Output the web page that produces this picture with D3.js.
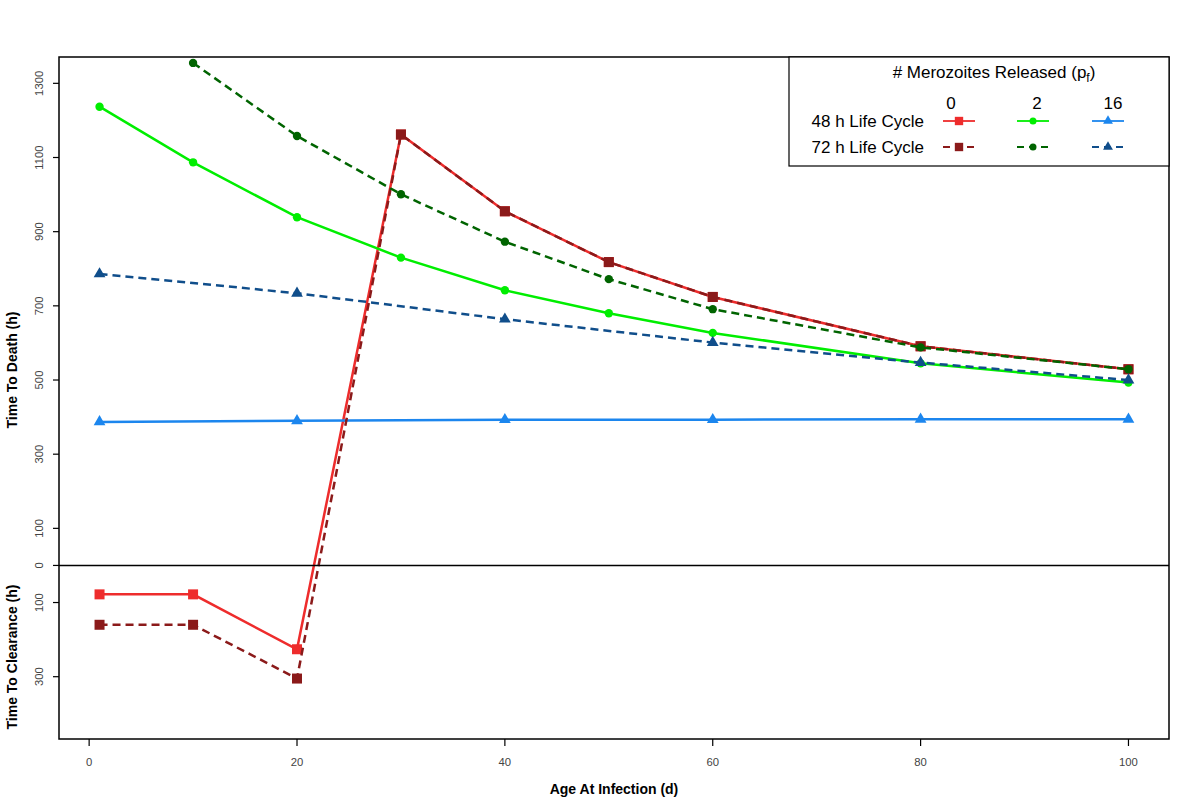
<!DOCTYPE html>
<html>
<head>
<meta charset="utf-8">
<script src="https://cdn.jsdelivr.net/npm/d3@7"></script>
<style>
  body { margin: 0; background: #fff; }
  svg { display: block; font-family: "Liberation Sans", Arial, sans-serif; }
  .tick-label { font-size: 11.3px; fill: #444; }
  .axis-title { font-size: 14px; font-weight: bold; fill: #000; }
  .legend-text { font-size: 17px; fill: #000; }
</style>
</head>
<body>
<div id="chart"></div>
<script>
// ages (days) sampled; pf=16 runs were only done at fewer ages
const ages = [1, 10, 20, 30, 40, 50, 60, 80, 100];
const ages16 = [1, 20, 40, 60, 80, 100];

// negative value = time to clearance, positive = time to death (hours)
const h48_pf0 = [-78, -78, -226, 1162, 955, 818, 724, 591, 529];
const h72_pf0 = [-160, -160, -305, 1162, 955, 818, 724, 591, 529];
const h48_pf2 = [1237, 1087, 939, 830, 742, 680, 627, 545, 493];
const h72_pf2 = [null, 1355, 1158, 1001, 873, 772, 691, 588, 529];
const h48_pf16 = [387, 390, 393, 393, 394, 394];
const h72_pf16 = [786, 734, 664, 601, 547, 500];

const xTicks = [0, 20, 40, 60, 80, 100];
const deathTicks = [0, 100, 300, 500, 700, 900, 1100, 1300];
const clearTicks = [100, 300];

const pfLabels = ["0", "2", "16"];
const cycleLabels = ["48 h Life Cycle", "72 h Life Cycle"];

const width = 1200, height = 812;
const plot = { left: 59, right: 1169, top: 57, bottom: 739 };

const svg = d3.select("#chart").append("svg")
    .attr("width", width)
    .attr("height", height);

svg.append("rect").attr("width", width).attr("height", height).attr("fill", "#fff");

const x = d3.scaleLinear().domain([-2.9, 103.9]).range([plot.left, plot.right]);
const y = d3.scaleLinear().domain([-468, 1371]).range([plot.bottom, plot.top]);

svg.append("clipPath").attr("id", "plot-clip")
  .append("rect")
    .attr("x", plot.left).attr("y", plot.top)
    .attr("width", plot.right - plot.left).attr("height", plot.bottom - plot.top);

// series config: 48h solid first, then 72h dashed on top
const series = [
  { xs: ages,   ys: h48_pf0,  color: "#EE2C2C", dash: null,  shape: d3.symbolSquare,   size: 100 },
  { xs: ages,   ys: h48_pf2,  color: "#00EE00", dash: null,  shape: d3.symbolCircle,   size: 55 },
  { xs: ages16, ys: h48_pf16, color: "#1C86EE", dash: null,  shape: d3.symbolTriangle, size: 60 },
  { xs: ages,   ys: h72_pf0,  color: "#8B1A1A", dash: "8,5", shape: d3.symbolSquare,   size: 100 },
  { xs: ages,   ys: h72_pf2,  color: "#006400", dash: "8,5", shape: d3.symbolCircle,   size: 55 },
  { xs: ages16, ys: h72_pf16, color: "#104E8B", dash: "8,5", shape: d3.symbolTriangle, size: 60 }
];

const g = svg.append("g").attr("clip-path", "url(#plot-clip)");

const line = d3.line()
    .defined(d => d[1] != null)
    .x(d => x(d[0]))
    .y(d => y(d[1]));

series.forEach(s => {
  const pts = s.xs.map((a, i) => [a, s.ys[i]]);
  g.append("path")
      .datum(pts)
      .attr("d", line)
      .attr("fill", "none")
      .attr("stroke", s.color)
      .attr("stroke-width", 2.5)
      .attr("stroke-dasharray", s.dash);

  g.selectAll(null)
      .data(pts.filter(d => d[1] != null))
      .enter().append("path")
      .attr("d", d3.symbol().type(s.shape).size(s.size))
      .attr("transform", d => `translate(${x(d[0])},${y(d[1])})`)
      .attr("fill", s.color);
});

// zero line splits death (up) from clearance (down)
svg.append("line")
    .attr("x1", plot.left).attr("x2", plot.right)
    .attr("y1", y(0)).attr("y2", y(0))
    .attr("stroke", "#000").attr("stroke-width", 1.5);

// frame
svg.append("rect")
    .attr("x", plot.left).attr("y", plot.top)
    .attr("width", plot.right - plot.left).attr("height", plot.bottom - plot.top)
    .attr("fill", "none").attr("stroke", "#000").attr("stroke-width", 1.5);

// x axis
const xAxis = svg.append("g");
xAxis.selectAll("line")
    .data(xTicks).enter().append("line")
    .attr("x1", d => x(d)).attr("x2", d => x(d))
    .attr("y1", plot.bottom).attr("y2", plot.bottom + 7)
    .attr("stroke", "#000").attr("stroke-width", 1.2);
xAxis.selectAll("text")
    .data(xTicks).enter().append("text")
    .attr("class", "tick-label")
    .attr("x", d => x(d)).attr("y", 762)
    .attr("dy", "0.35em")
    .attr("text-anchor", "middle")
    .text(d => d);

// y axis: death ticks up, clearance ticks down (labels shown as magnitudes)
const yTickVals = deathTicks.concat(clearTicks.map(v => -v));
const yAxis = svg.append("g");
yAxis.selectAll("line")
    .data(yTickVals).enter().append("line")
    .attr("x1", plot.left - 6).attr("x2", plot.left)
    .attr("y1", d => y(d)).attr("y2", d => y(d))
    .attr("stroke", "#000").attr("stroke-width", 1.2);
yAxis.selectAll("text")
    .data(yTickVals).enter().append("text")
    .attr("class", "tick-label")
    .attr("transform", d => `translate(39,${y(d)}) rotate(-90)`)
    .attr("dy", "0.35em")
    .attr("text-anchor", "middle")
    .text(d => Math.abs(d));

// axis titles
svg.append("text").attr("class", "axis-title")
    .attr("x", 614).attr("y", 789).attr("dy", "0.35em")
    .attr("text-anchor", "middle")
    .text("Age At Infection (d)");
svg.append("text").attr("class", "axis-title")
    .attr("transform", "translate(12,370) rotate(-90)")
    .attr("dy", "0.35em").attr("text-anchor", "middle")
    .text("Time To Death (h)");
svg.append("text").attr("class", "axis-title")
    .attr("transform", "translate(12,657) rotate(-90)")
    .attr("dy", "0.35em").attr("text-anchor", "middle")
    .text("Time To Clearance (h)");

// legend
const leg = svg.append("g");
leg.append("rect")
    .attr("x", 789).attr("y", plot.top)
    .attr("width", plot.right - 789).attr("height", 166 - plot.top)
    .attr("fill", "#fff").attr("stroke", "#000").attr("stroke-width", 1.2);

const title = leg.append("text").attr("class", "legend-text")
    .attr("x", 994).attr("y", 72).attr("dy", "0.35em")
    .attr("text-anchor", "middle");
title.append("tspan").text("# Merozoites Released (p");
title.append("tspan").attr("font-size", "12px").attr("dy", "4").text("f");
title.append("tspan").attr("dy", "-4").text(")");

const colX = [959, 1033, 1108];   // symbol centres
const headX = [951, 1037, 1113];  // column header centres
const rowY = [121, 147];

leg.selectAll(".col-head")
    .data(pfLabels).enter().append("text")
    .attr("class", "legend-text")
    .attr("x", (d, i) => headX[i]).attr("y", 103).attr("dy", "0.35em")
    .attr("text-anchor", "middle")
    .text(d => d);

leg.selectAll(".row-head")
    .data(cycleLabels).enter().append("text")
    .attr("class", "legend-text")
    .attr("x", 924).attr("y", (d, i) => rowY[i]).attr("dy", "0.35em")
    .attr("text-anchor", "end")
    .text(d => d);

series.forEach((s, k) => {
  const cx = colX[k % 3], cy = rowY[Math.floor(k / 3)];
  leg.append("line")
      .attr("x1", cx - 16).attr("x2", cx + 16)
      .attr("y1", cy).attr("y2", cy)
      .attr("stroke", s.color).attr("stroke-width", 1.8)
      .attr("stroke-dasharray", s.dash ? "7,5" : null);
  leg.append("path")
      .attr("d", d3.symbol().type(s.shape).size(s.size * 0.7))
      .attr("transform", `translate(${cx},${cy})`)
      .attr("fill", s.color);
});
</script>
</body>
</html>
